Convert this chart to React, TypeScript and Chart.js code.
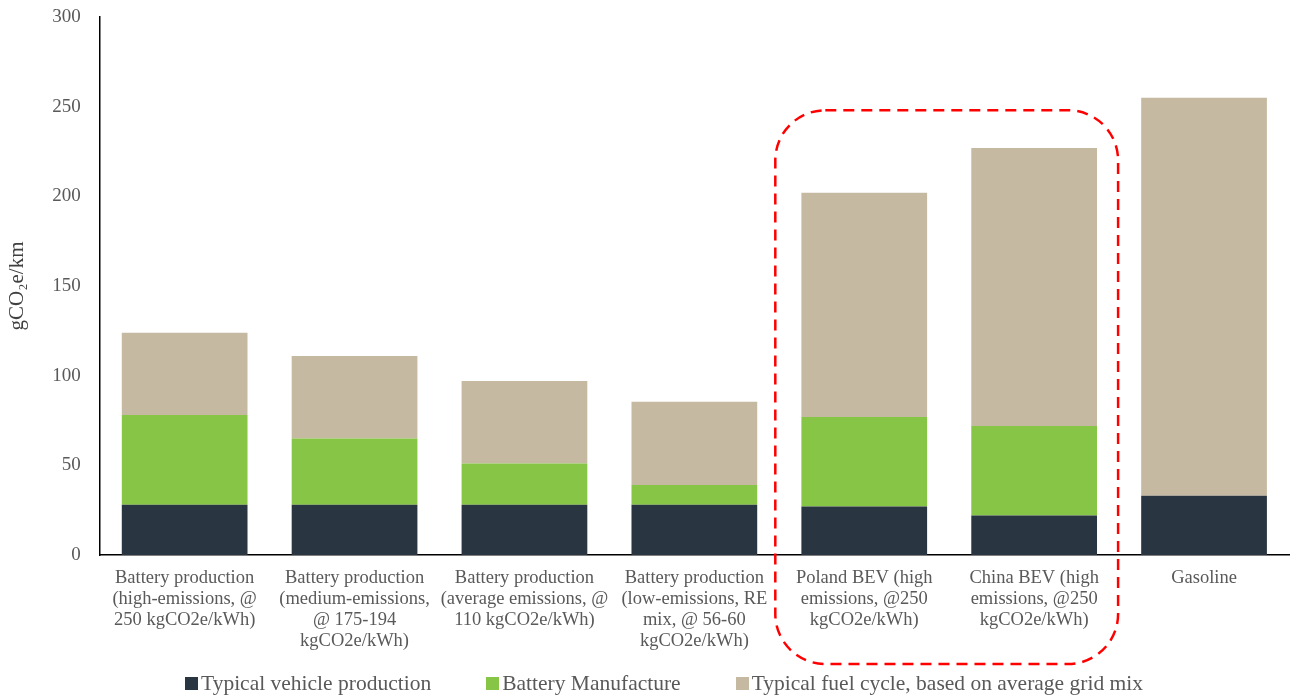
import React, { useEffect, useRef } from "react";
import { Chart, registerables } from "chart.js";

Chart.register(...registerables);

const categories: string[][] = [
  ["Battery production", "(high-emissions, @", "250 kgCO2e/kWh)"],
  ["Battery production", "(medium-emissions,", "@ 175-194", "kgCO2e/kWh)"],
  ["Battery production", "(average emissions, @", "110 kgCO2e/kWh)"],
  ["Battery production", "(low-emissions, RE", "mix, @ 56-60", "kgCO2e/kWh)"],
  ["Poland BEV (high", "emissions, @250", "kgCO2e/kWh)"],
  ["China BEV (high", "emissions, @250", "kgCO2e/kWh)"],
  ["Gasoline"],
];

const vehicleProduction = [28, 28, 28, 28, 27, 22, 33];
const batteryManufacture = [50, 37, 23, 11, 50, 50, 0];
const fuelCycle = [46, 46, 46, 46.5, 125, 155, 222];

const yTicks = [0, 50, 100, 150, 200, 250, 300];

const seriesNames = [
  "Typical vehicle production",
  "Battery Manufacture",
  "Typical fuel cycle, based on average grid mix",
];
const seriesColors = ["#2A3542", "#86C545", "#C6B9A2"];

// highlighted group: categories 4..5, top at value 248
const highlightFrom = 4;
const highlightTo = 5;
const highlightTopValue = 248;

const FONT = "'Liberation Serif', 'DejaVu Serif', serif";

export default function App() {
  const ref = useRef<HTMLCanvasElement | null>(null);

  useEffect(() => {
    document.body.style.margin = "0";
    const canvas = ref.current!;
    const highlightPlugin = {
      id: "highlight",
      afterDraw(chart: any) {
        const { ctx, scales, chartArea } = chart;
        const x = scales.x;
        const y = scales.y;
        const half = (x.getPixelForValue(1) - x.getPixelForValue(0)) / 2;
        const left = x.getPixelForValue(highlightFrom) - half - 4;
        const right = x.getPixelForValue(highlightTo) + half - 1;
        const top = y.getPixelForValue(highlightTopValue);
        const bottom = chartArea.bottom + 109;
        const r = 50;
        ctx.save();
        ctx.strokeStyle = "#FF0000";
        ctx.lineWidth = 2.5;
        ctx.setLineDash([11, 7]);
        ctx.beginPath();
        ctx.moveTo(left + r, top);
        ctx.lineTo(right - r, top);
        ctx.arcTo(right, top, right, top + r, r);
        ctx.lineTo(right, bottom - r);
        ctx.arcTo(right, bottom, right - r, bottom, r);
        ctx.lineTo(left + r, bottom);
        ctx.arcTo(left, bottom, left, bottom - r, r);
        ctx.lineTo(left, top + r);
        ctx.arcTo(left, top, left + r, top, r);
        ctx.closePath();
        ctx.stroke();
        ctx.restore();
      },
    };

    const data = [vehicleProduction, batteryManufacture, fuelCycle];
    const chart = new Chart(canvas, {
      type: "bar",
      data: {
        labels: categories,
        datasets: data.map((d, i) => ({
          label: seriesNames[i],
          data: d,
          backgroundColor: seriesColors[i],
          borderWidth: 0,
          barPercentage: 0.74,
          categoryPercentage: 1,
        })),
      },
      options: {
        animation: false,
        responsive: false,
        maintainAspectRatio: false,
        layout: { padding: { top: 17, right: 4, left: 3, bottom: 32 } },
        plugins: {
          legend: { display: false },
          tooltip: { enabled: false },
        },
        scales: {
          x: {
            stacked: true,
            grid: { display: false, drawTicks: false },
            border: { display: true, color: "#000000", width: 1.5 },
            ticks: {
              font: { family: FONT, size: 18.5, lineHeight: "21px" },
              color: "#595959",
              maxRotation: 0,
              autoSkip: false,
              padding: 13,
            },
          },
          y: {
            stacked: true,
            min: 0,
            max: 300,
            afterBuildTicks: (axis: any) => {
              axis.ticks = yTicks.map((v) => ({ value: v }));
            },
            afterFit: (axis: any) => {
              axis.paddingTop = 0;
              axis.paddingBottom = 0;
            },
            grid: { display: false, drawTicks: false },
            border: { display: true, color: "#000000", width: 1.5 },
            ticks: {
              font: { family: FONT, size: 19 },
              color: "#595959",
              padding: 19,
            },
            title: {
              display: true,
              text: "gCO₂e/km",
              font: { family: FONT, size: 21 },
              color: "#404040",
              padding: { top: 2, bottom: 3 },
            },
          },
        },
      },
      plugins: [highlightPlugin],
    });
    return () => chart.destroy();
  }, []);

  return (
    <div style={{ width: 1293, height: 697, position: "relative" }}>
      <canvas ref={ref} width={1293} height={697} style={{ display: "block" }} />
      <div
        style={{
          position: "absolute",
          left: 0,
          right: 0,
          top: 670,
          height: 26,
          display: "flex",
          justifyContent: "center",
          alignItems: "center",
          gap: 55,
          fontFamily: FONT,
          fontSize: 21.5,
          color: "#595959",
          paddingLeft: 35,
        }}
      >
        {seriesNames.map((n, i) => (
          <div key={n} style={{ display: "flex", alignItems: "center" }}>
            <span
              style={{
                display: "inline-block",
                width: 13,
                height: 13,
                background: seriesColors[i],
                marginRight: 3,
              }}
            />
            <span>{n}</span>
          </div>
        ))}
      </div>
    </div>
  );
}
